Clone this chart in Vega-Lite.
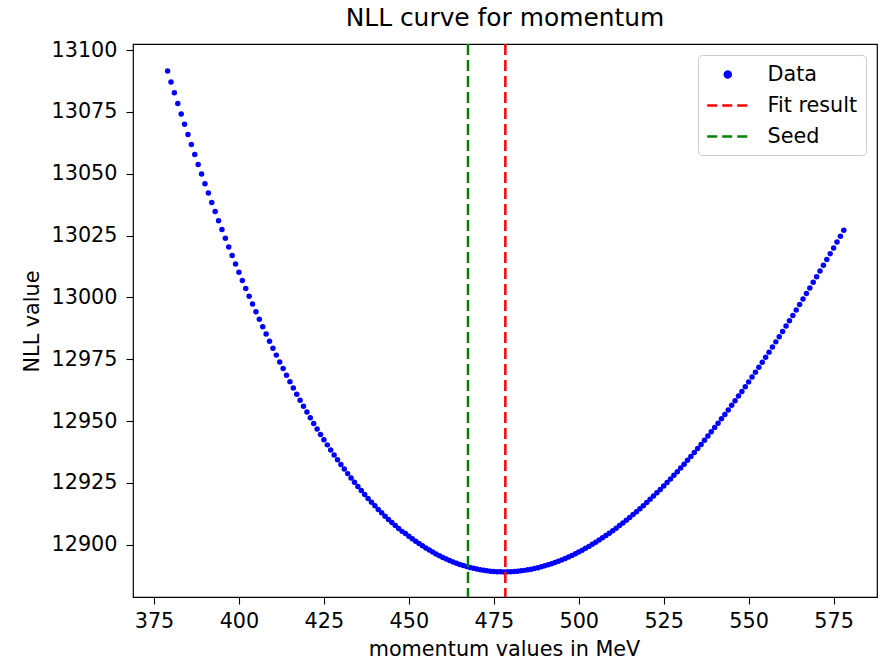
{
  "$schema": "https://vega.github.io/schema/vega-lite/v6.json",
  "width": 744,
  "height": 553,
  "autosize": {"type": "none"},
  "padding": {"left": 133, "top": 44, "right": 3, "bottom": 62},
  "background": "white",
  "title": {"text": "NLL curve for momentum", "fontSize": 24.9, "fontWeight": "normal", "font": "DejaVu Sans", "color": "black", "offset": 8, "anchor": "middle"},
  "config": {
    "view": {"stroke": "black", "strokeWidth": 1.2},
    "font": "DejaVu Sans",
    "axis": {"grid": false, "domain": false, "tickColor": "black", "tickWidth": 1.1, "tickSize": 7, "labelFontSize": 20.75, "labelColor": "black", "labelFont": "DejaVu Sans", "titleFontSize": 20.75, "titleFontWeight": "normal", "titleColor": "black", "titleFont": "DejaVu Sans"}
  },
  "layer": [
    {
      "data": {"values": [
{"p":379,"nll":13091.52},{"p":380,"nll":13087.10},{"p":381,"nll":13082.75},{"p":382,"nll":13078.45},{"p":383,"nll":13074.20},{"p":384,"nll":13070.00},{"p":385,"nll":13065.87},{"p":386,"nll":13061.79},{"p":387,"nll":13057.76},{"p":388,"nll":13053.78},
{"p":389,"nll":13049.86},{"p":390,"nll":13045.99},{"p":391,"nll":13042.18},{"p":392,"nll":13038.41},{"p":393,"nll":13034.70},{"p":394,"nll":13031.04},{"p":395,"nll":13027.43},{"p":396,"nll":13023.88},{"p":397,"nll":13020.38},{"p":398,"nll":13016.93},
{"p":399,"nll":13013.52},{"p":400,"nll":13010.17},{"p":401,"nll":13006.88},{"p":402,"nll":13003.63},{"p":403,"nll":13000.44},{"p":404,"nll":12997.29},{"p":405,"nll":12994.20},{"p":406,"nll":12991.15},{"p":407,"nll":12988.15},{"p":408,"nll":12985.20},
{"p":409,"nll":12982.31},{"p":410,"nll":12979.46},{"p":411,"nll":12976.66},{"p":412,"nll":12973.91},{"p":413,"nll":12971.21},{"p":414,"nll":12968.55},{"p":415,"nll":12965.94},{"p":416,"nll":12963.39},{"p":417,"nll":12960.87},{"p":418,"nll":12958.40},
{"p":419,"nll":12955.99},{"p":420,"nll":12953.62},{"p":421,"nll":12951.29},{"p":422,"nll":12949.02},{"p":423,"nll":12946.78},{"p":424,"nll":12944.60},{"p":425,"nll":12942.46},{"p":426,"nll":12940.37},{"p":427,"nll":12938.32},{"p":428,"nll":12936.31},
{"p":429,"nll":12934.36},{"p":430,"nll":12932.44},{"p":431,"nll":12930.58},{"p":432,"nll":12928.74},{"p":433,"nll":12926.96},{"p":434,"nll":12925.23},{"p":435,"nll":12923.53},{"p":436,"nll":12921.89},{"p":437,"nll":12920.27},{"p":438,"nll":12918.72},
{"p":439,"nll":12917.19},{"p":440,"nll":12915.71},{"p":441,"nll":12914.27},{"p":442,"nll":12912.89},{"p":443,"nll":12911.54},{"p":444,"nll":12910.23},{"p":445,"nll":12908.96},{"p":446,"nll":12907.72},{"p":447,"nll":12906.54},{"p":448,"nll":12905.39},
{"p":449,"nll":12904.52},{"p":450,"nll":12903.44},{"p":451,"nll":12902.40},{"p":452,"nll":12901.40},{"p":453,"nll":12900.45},{"p":454,"nll":12899.53},{"p":455,"nll":12898.65},{"p":456,"nll":12897.81},{"p":457,"nll":12897.01},{"p":458,"nll":12896.25},
{"p":459,"nll":12895.53},{"p":460,"nll":12894.85},{"p":461,"nll":12894.21},{"p":462,"nll":12893.61},{"p":463,"nll":12893.04},{"p":464,"nll":12892.51},{"p":465,"nll":12892.02},{"p":466,"nll":12891.57},{"p":467,"nll":12891.16},{"p":468,"nll":12890.78},
{"p":469,"nll":12890.44},{"p":470,"nll":12890.13},{"p":471,"nll":12889.87},{"p":472,"nll":12889.63},{"p":473,"nll":12889.44},{"p":474,"nll":12889.28},{"p":475,"nll":12889.16},{"p":476,"nll":12889.07},{"p":477,"nll":12889.02},{"p":478,"nll":12889.00},
{"p":479,"nll":12889.02},{"p":480,"nll":12889.07},{"p":481,"nll":12889.16},{"p":482,"nll":12889.28},{"p":483,"nll":12889.43},{"p":484,"nll":12889.62},{"p":485,"nll":12889.84},{"p":486,"nll":12890.10},{"p":487,"nll":12890.38},{"p":488,"nll":12890.71},
{"p":489,"nll":12891.06},{"p":490,"nll":12891.45},{"p":491,"nll":12891.86},{"p":492,"nll":12892.31},{"p":493,"nll":12892.80},{"p":494,"nll":12893.31},{"p":495,"nll":12893.86},{"p":496,"nll":12894.43},{"p":497,"nll":12895.04},{"p":498,"nll":12895.68},
{"p":499,"nll":12896.35},{"p":500,"nll":12897.05},{"p":501,"nll":12897.77},{"p":502,"nll":12898.53},{"p":503,"nll":12899.32},{"p":504,"nll":12900.14},{"p":505,"nll":12900.99},{"p":506,"nll":12901.86},{"p":507,"nll":12902.77},{"p":508,"nll":12903.70},
{"p":509,"nll":12904.66},{"p":510,"nll":12905.65},{"p":511,"nll":12906.67},{"p":512,"nll":12907.72},{"p":513,"nll":12908.79},{"p":514,"nll":12909.89},{"p":515,"nll":12911.02},{"p":516,"nll":12912.17},{"p":517,"nll":12913.35},{"p":518,"nll":12914.56},
{"p":519,"nll":12915.79},{"p":520,"nll":12917.05},{"p":521,"nll":12918.34},{"p":522,"nll":12919.65},{"p":523,"nll":12920.98},{"p":524,"nll":12922.34},{"p":525,"nll":12923.73},{"p":526,"nll":12925.14},{"p":527,"nll":12926.58},{"p":528,"nll":12928.04},
{"p":529,"nll":12929.52},{"p":530,"nll":12931.03},{"p":531,"nll":12932.56},{"p":532,"nll":12934.11},{"p":533,"nll":12935.69},{"p":534,"nll":12937.29},{"p":535,"nll":12938.91},{"p":536,"nll":12940.56},{"p":537,"nll":12942.23},{"p":538,"nll":12943.92},
{"p":539,"nll":12945.63},{"p":540,"nll":12947.36},{"p":541,"nll":12949.12},{"p":542,"nll":12950.89},{"p":543,"nll":12952.69},{"p":544,"nll":12954.51},{"p":545,"nll":12956.35},{"p":546,"nll":12958.21},{"p":547,"nll":12960.09},{"p":548,"nll":12961.99},
{"p":549,"nll":12963.90},{"p":550,"nll":12965.84},{"p":551,"nll":12967.80},{"p":552,"nll":12969.78},{"p":553,"nll":12971.77},{"p":554,"nll":12973.79},{"p":555,"nll":12975.82},{"p":556,"nll":12977.87},{"p":557,"nll":12979.94},{"p":558,"nll":12982.02},
{"p":559,"nll":12984.13},{"p":560,"nll":12986.25},{"p":561,"nll":12988.39},{"p":562,"nll":12990.54},{"p":563,"nll":12992.71},{"p":564,"nll":12994.90},{"p":565,"nll":12997.11},{"p":566,"nll":12999.33},{"p":567,"nll":13001.57},{"p":568,"nll":13003.82},
{"p":569,"nll":13006.09},{"p":570,"nll":13008.37},{"p":571,"nll":13010.67},{"p":572,"nll":13012.98},{"p":573,"nll":13015.30},{"p":574,"nll":13017.65},{"p":575,"nll":13020.00},{"p":576,"nll":13022.37},{"p":577,"nll":13024.75},{"p":578,"nll":13027.15}
      ]},
      "mark": {"type": "circle", "size": 30, "opacity": 1},
      "encoding": {
        "x": {"field": "p", "type": "quantitative", "scale": {"domain": [368.82, 587.77], "nice": false, "zero": false},
              "axis": {"values": [375, 400, 425, 450, 475, 500, 525, 550, 575], "format": "d", "title": "momentum values in MeV", "labelPadding": 7, "titleX": 371, "titleY": 58, "titleBaseline": "alphabetic", "titleAlign": "center"}},
        "y": {"field": "nll", "type": "quantitative", "scale": {"domain": [12878.85, 13102.47], "nice": false, "zero": false},
              "axis": {"values": [12900, 12925, 12950, 12975, 13000, 13025, 13050, 13075, 13100], "format": "d", "title": "NLL value", "labelPadding": 9, "titleX": -95, "titleY": 277, "titleAngle": -90, "titleBaseline": "alphabetic", "titleAlign": "center"}},
        "color": {"datum": "Data", "type": "nominal", "scale": {"domain": ["Data", "Fit result", "Seed"], "range": ["#0000ff", "#ff0000", "#008000"]}}
      }
    },
    {
      "data": {"values": [{"p": 478.4, "series": "Fit result"}, {"p": 467.4, "series": "Seed"}]},
      "mark": {"type": "rule", "strokeDash": [11, 5], "strokeWidth": 2.5},
      "encoding": {
        "x": {"field": "p", "type": "quantitative"},
        "color": {"field": "series", "type": "nominal",
          "legend": {
            "title": null, "orient": "top-right", "offset": 11,
            "symbolSize": 420, "labelFontSize": 20.75, "labelFont": "DejaVu Sans", "labelColor": "black",
            "labelOffset": 38.5, "rowPadding": 9, "padding": 8,
            "fillColor": "rgba(255,255,255,0.8)", "strokeColor": "#cccccc", "cornerRadius": 4,
            "symbolStrokeWidth": 2.5,
            "encode": {"symbols": {"update": {
              "shape": {"signal": "datum.value === 'Data' ? 'M1.29,0A0.29,0.29,0,1,1,0.71,0A0.29,0.29,0,1,1,1.29,0Z' : 'M-1,0H3'"},
              "size": {"value": 420},
              "fill": {"signal": "datum.value === 'Data' ? '#0000ff' : 'transparent'"},
              "stroke": {"signal": "datum.value === 'Data' ? 'transparent' : (datum.value === 'Seed' ? '#008000' : '#ff0000')"},
              "strokeDash": {"signal": "datum.value === 'Data' ? [1,0] : [10,5]"},
              "strokeWidth": {"value": 2.5},
              "opacity": {"value": 1}
            }}}
          }}
      }
    }
  ]
}
